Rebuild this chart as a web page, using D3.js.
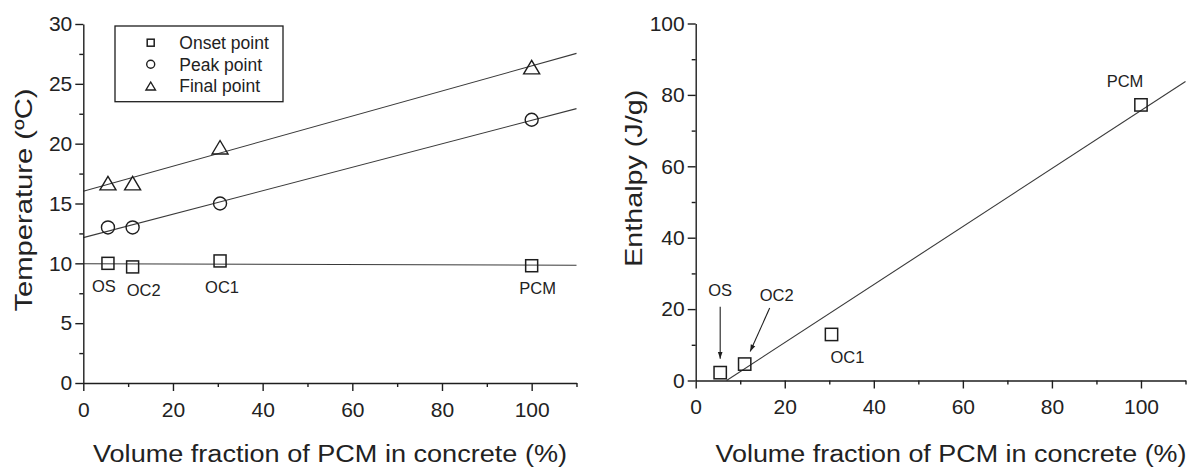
<!DOCTYPE html>
<html>
<head>
<meta charset="utf-8">
<script src="https://cdn.jsdelivr.net/npm/d3@7/dist/d3.min.js"></script>
<style>
  html, body { margin: 0; padding: 0; background: #fff; }
  svg { display: block; font-family: "Liberation Sans", Arial, Helvetica, sans-serif; }
  .axis path, .axis line { stroke: #1e1e1e; stroke-width: 1.4; }
  .axis text { fill: #222; font-size: 21px; font-family: "Liberation Sans", Arial, sans-serif; }
</style>
</head>
<body>
<svg id="chart" width="1195" height="471"></svg>
<script>
// Sample composition: PCM volume fraction in each concrete mix (%)
const samples = ["OS", "OC2", "OC1", "PCM"];
const pcmFraction = [5.5, 11, 30.5, 100];

// DSC characteristic temperatures (°C)
const onsetTemp = [10.0, 9.7, 10.2, 9.8];
const peakTemp = [13.0, 13.0, 15.0, 22.0];
const finalTemp = [16.7, 16.7, 19.7, 26.4];

// Latent heat (J/g)
const enthalpy = [2.2, 4.6, 12.9, 77.2];

// Axis ticks
const fractionTicks = [0, 20, 40, 60, 80, 100];
const fractionMinor = [10, 30, 50, 70, 90, 110];
const tempTicks = [0, 5, 10, 15, 20, 25, 30];
const tempMinor = [2.5, 7.5, 12.5, 17.5, 22.5, 27.5];
const enthalpyTicks = [0, 20, 40, 60, 80, 100];
const enthalpyMinor = [10, 30, 50, 70, 90];

const legendLabels = ["Onset point", "Peak point", "Final point"];
const xTitle = "Volume fraction of PCM in concrete (%)";

const svg = d3.select("#chart");
const INK = "#1e1e1e";
const LINE = "#3a3a3a";

// Least-squares straight line through a set of points
function linearFit(xs, ys) {
  const mx = d3.mean(xs), my = d3.mean(ys);
  let sxy = 0, sxx = 0;
  xs.forEach((x, i) => { sxy += (x - mx) * (ys[i] - my); sxx += (x - mx) ** 2; });
  const slope = sxy / sxx;
  return { slope, intercept: my - slope * mx };
}

// Marker shapes
function square(g, cx, cy, s) {
  g.append("rect").attr("x", cx - s / 2).attr("y", cy - s / 2)
    .attr("width", s).attr("height", s)
    .attr("fill", "none").attr("stroke", INK).attr("stroke-width", 1.5);
}
function circle(g, cx, cy, d) {
  g.append("circle").attr("cx", cx).attr("cy", cy).attr("r", d / 2)
    .attr("fill", "none").attr("stroke", INK).attr("stroke-width", 1.4);
}
function triangle(g, cx, cy, w, h) {
  g.append("path")
    .attr("d", `M${cx},${cy - h / 2}L${cx + w / 2},${cy + h / 2}L${cx - w / 2},${cy + h / 2}Z`)
    .attr("fill", "none").attr("stroke", INK).attr("stroke-width", 1.4).attr("stroke-linejoin", "miter");
}

function drawAxes(x, y, yMajor, yMinor) {
  const [y0] = y.range();
  const [x0] = x.range();
  // minor ticks first so the major axis draws its domain on top
  svg.append("g").attr("class", "axis").attr("transform", `translate(0,${y0})`)
    .call(d3.axisBottom(x).tickValues(fractionMinor).tickSize(4).tickFormat("").tickSizeOuter(0))
    .call(g => g.select(".domain").remove());
  svg.append("g").attr("class", "axis").attr("transform", `translate(0,${y0})`)
    .call(d3.axisBottom(x).tickValues(fractionTicks).tickSize(8).tickPadding(11).tickSizeOuter(0));
  svg.append("g").attr("class", "axis").attr("transform", `translate(${x0},0)`)
    .call(d3.axisLeft(y).tickValues(yMinor).tickSize(4).tickFormat("").tickSizeOuter(0))
    .call(g => g.select(".domain").remove());
  svg.append("g").attr("class", "axis").attr("transform", `translate(${x0},0)`)
    .call(d3.axisLeft(y).tickValues(yMajor).tickSize(8).tickPadding(3).tickSizeOuter(0));
}

function label(text, cx, cy, size) {
  svg.append("text").attr("x", cx).attr("y", cy + size * 0.36)
    .attr("text-anchor", "middle").attr("font-size", size).attr("fill", "#222").text(text);
}

function fitLine(x, y, xs, ys, xFrom, xTo) {
  const f = linearFit(xs, ys);
  const pts = [xFrom, xTo].map(v => [v, f.intercept + f.slope * v]);
  svg.append("path")
    .attr("d", d3.line().x(d => x(d[0])).y(d => y(d[1]))(pts))
    .attr("fill", "none").attr("stroke", LINE).attr("stroke-width", 1.1);
  return f;
}

// ---------- Left panel: transition temperatures ----------
const xL = d3.scaleLinear().domain([0, 110]).range([83.3, 576.5]);
const yL = d3.scaleLinear().domain([0, 30]).range([383, 24]);

fitLine(xL, yL, pcmFraction, onsetTemp, 0, 110);
fitLine(xL, yL, pcmFraction, peakTemp, 0, 110);
fitLine(xL, yL, pcmFraction, finalTemp, 0, 110);

drawAxes(xL, yL, tempTicks, tempMinor);

const marksL = svg.append("g");
pcmFraction.forEach((v, i) => {
  square(marksL, xL(v), yL(onsetTemp[i]), 12);
  circle(marksL, xL(v), yL(peakTemp[i]), 13);
  triangle(marksL, xL(v), yL(finalTemp[i]), 16, 13.5);
});

// sample names under the onset points
const leftLabelShift = [[-4, 23], [11, 23], [2, 26], [6, 22]];
samples.forEach((s, i) => {
  label(s, xL(pcmFraction[i]) + leftLabelShift[i][0], yL(onsetTemp[i]) + leftLabelShift[i][1], 16.5);
});

// legend
const lg = svg.append("g");
lg.append("rect").attr("x", 115).attr("y", 26).attr("width", 168).attr("height", 75.7)
  .attr("fill", "#fff").attr("stroke", INK).attr("stroke-width", 1.3);
const legendRows = [42.7, 64.3, 86];
square(lg, 150.7, legendRows[0], 7);
circle(lg, 150.7, legendRows[1], 8);
triangle(lg, 150.7, legendRows[2], 9.5, 8);
legendLabels.forEach((t, i) => {
  lg.append("text").attr("x", 179.3).attr("y", legendRows[i] + 6.3)
    .attr("font-size", 17.5).attr("fill", "#222").text(t);
});

// axis titles
svg.append("text").attr("x", 330).attr("y", 461.7).attr("text-anchor", "middle")
  .attr("font-size", 23.5).attr("fill", "#222")
  .attr("textLength", 474).attr("lengthAdjust", "spacingAndGlyphs").text(xTitle);
svg.append("text").attr("transform", "translate(31.5,200) rotate(-90)").attr("text-anchor", "middle")
  .attr("font-size", 24.5).attr("fill", "#222")
  .attr("textLength", 223).attr("lengthAdjust", "spacingAndGlyphs").text("Temperature (ºC)");

// ---------- Right panel: enthalpy ----------
const xR = d3.scaleLinear().domain([0, 110]).range([695.7, 1185.5]);
const yR = d3.scaleLinear().domain([0, 100]).range([380.5, 23.5]);

const fitH = linearFit(pcmFraction, enthalpy);
fitLine(xR, yR, pcmFraction, enthalpy, -fitH.intercept / fitH.slope, 110);

drawAxes(xR, yR, enthalpyTicks, enthalpyMinor);

const marksR = svg.append("g");
pcmFraction.forEach((v, i) => square(marksR, xR(v), yR(enthalpy[i]), 12.3));

// sample names and pointer arrows
const defs = svg.append("defs");
defs.append("marker").attr("id", "head").attr("viewBox", "0 0 10 10")
  .attr("refX", 10).attr("refY", 5).attr("markerWidth", 7).attr("markerHeight", 7)
  .attr("markerUnits", "userSpaceOnUse").attr("orient", "auto")
  .append("path").attr("d", "M0,1.5L10,5L0,8.5Z").attr("fill", INK);

const rightLabelPos = [[0, -83], [32, -69], [16, 22.5], [-16, -23.5]];
samples.forEach((s, i) => {
  label(s, xR(pcmFraction[i]) + rightLabelPos[i][0], yR(enthalpy[i]) + rightLabelPos[i][1], 16.5);
});
const arrows = [
  { from: [0, -66], to: [0, -14] },
  { from: [25, -56], to: [5.5, -12.5] }
];
arrows.forEach((a, i) => {
  const cx = xR(pcmFraction[i]), cy = yR(enthalpy[i]);
  svg.append("line")
    .attr("x1", cx + a.from[0]).attr("y1", cy + a.from[1])
    .attr("x2", cx + a.to[0]).attr("y2", cy + a.to[1])
    .attr("stroke", INK).attr("stroke-width", 1.1).attr("marker-end", "url(#head)");
});

svg.append("text").attr("x", 951).attr("y", 461.7).attr("text-anchor", "middle")
  .attr("font-size", 23.5).attr("fill", "#222")
  .attr("textLength", 471).attr("lengthAdjust", "spacingAndGlyphs").text(xTitle);
svg.append("text").attr("transform", "translate(641.5,178.3) rotate(-90)").attr("text-anchor", "middle")
  .attr("font-size", 24.5).attr("fill", "#222")
  .attr("textLength", 177).attr("lengthAdjust", "spacingAndGlyphs").text("Enthalpy (J/g)");
</script>
</body>
</html>
